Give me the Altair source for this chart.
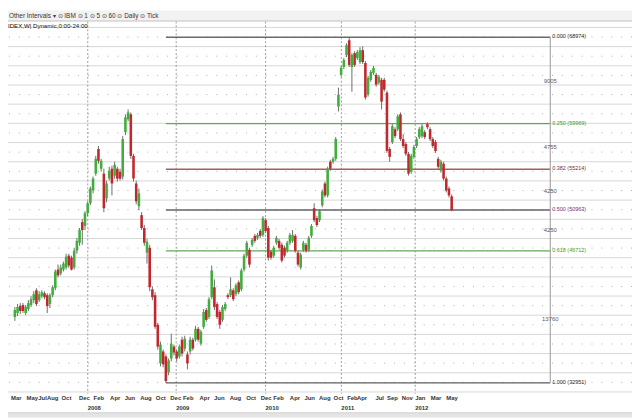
import altair as alt
import pandas as pd

# ---------------- candle data (weekly bars, in bar order) ----------------
opens = [
    39820, 40230, 40950, 41060, 40230, 40640, 41060, 41570, 42600, 41570,
    41980, 42290, 42090, 41160, 42090, 42810, 44760, 44350, 44760, 44970,
    46210, 46000, 44970, 46720, 47550, 49710, 49300, 50640, 51670, 53000,
    54760, 57330, 55270, 54760, 52180, 54240, 55270, 54550, 55270, 54960,
    54450, 59080, 60420, 60940, 56610, 53730, 51360, 50430, 49090, 46520,
    47030, 42700, 42090, 39000, 34980, 36220, 35700, 34050, 35490, 36730,
    36220, 35700, 37450, 36520, 35910,
    36220, 37450, 37450, 38580, 37040, 38790, 40540, 39820, 41880, 42910,
    41160, 40340, 39510, 40640, 42090, 42090, 42600, 42190, 43430, 42700,
    44760, 46210, 46820, 47340, 48270, 48060, 48780, 48370, 49910, 49090,
    46620, 46210, 47550, 47750, 47340, 47030, 46720, 47550, 47750, 48270,
    46520, 44970, 46820, 47340, 46820, 48270, 51150, 50120, 49910, 51460,
    53730, 52490, 55990, 55990, 56300, 61760, 65060, 65880, 67120, 68660,
    65880, 67320, 66810, 66390, 67630, 66290, 63000, 64540, 65260, 65060,
    64230, 64540, 64540, 63200, 57330, 58050, 59390, 59390, 60940, 58360,
    57850, 56820, 54960, 56510, 57640, 58570, 58670, 59080, 59910, 59390,
    58360, 58050, 56300, 55060, 55790, 54240, 53210, 52390,
]
highs = [
    40850, 41160, 41260, 41260, 41060, 41570, 41980, 42500, 42810, 42500,
    42600, 42500, 42290, 42290, 43120, 44760, 45280, 45280, 45590, 46410,
    46410, 46210, 47030, 48060, 49090, 50020, 50840, 51870, 53420, 54450,
    56610, 57640, 56300, 55270, 54030, 55480, 55580, 55990, 55480, 55270,
    58670, 60940, 61450, 61140, 56820, 54030, 53210, 50740, 49400, 47960,
    47340, 43010, 42400, 39200, 37250, 36420, 35910, 35490, 38070, 36940,
    36420, 36940, 37760, 37860, 36220,
    37760, 37660, 38890, 38790, 38480, 40640, 40750, 41880, 45180, 43730,
    41370, 40540, 41060, 41370, 42290, 43940, 42810, 43320, 43630, 44870,
    46410, 47750, 47030, 48060, 48470, 48580, 48990, 50330, 50120, 49300,
    46820, 47240, 48270, 47960, 47550, 47240, 47750, 48580, 48880, 48470,
    46720, 46520, 47750, 47550, 48270, 49500, 51670, 50330, 51050, 53110,
    53930, 55480, 56200, 56510, 58570, 63720, 65980, 66810, 68350, 68974,
    67320, 67530, 67630, 67940, 68040, 66500, 64950, 65570, 65980, 65260,
    65060, 64750, 64750, 63410, 57540, 59910, 59600, 60940, 61140, 58880,
    58050, 57020, 56820, 57740, 58570, 59600, 59910, 59290, 60110, 59600,
    58570, 58260, 56510, 56200, 55990, 54450, 53420, 52590,
]
lows = [
    39410, 39920, 40130, 40230, 40030, 40440, 40850, 41260, 40950, 41370,
    41780, 41670, 40230, 40750, 41880, 42600, 43940, 44150, 44560, 44760,
    44970, 44660, 44760, 46410, 47240, 47340, 48880, 50330, 51460, 52700,
    54550, 55790, 54960, 50740, 51770, 54030, 52490, 54240, 53930, 54030,
    54140, 58770, 60210, 56300, 53930, 51560, 50940, 48880, 47240, 45380,
    42500, 41570, 38580, 36420, 34670, 34570, 32951, 33740, 35190, 35800,
    35190, 35490, 35700, 36220, 34360,
    35910, 36320, 37250, 37250, 36830, 38580, 39310, 39610, 41670, 40540,
    39610, 38580, 39310, 40440, 41670, 41880, 41470, 41980, 42190, 42500,
    44560, 46000, 44970, 47130, 47550, 47850, 48060, 48160, 48580, 45690,
    45790, 46000, 47340, 46820, 45490, 46000, 46520, 47340, 47550, 46520,
    45070, 44760, 46620, 46520, 46620, 48060, 49710, 49190, 49710, 51250,
    52280, 52280, 55060, 55790, 56090, 61240, 64850, 65670, 66910, 65880,
    63300, 65880, 66600, 66190, 66190, 62480, 62790, 64330, 65060, 63820,
    64030, 61450, 63300, 56920, 55990, 57850, 58460, 59180, 58150, 57430,
    56610, 54550, 54760, 56300, 57430, 58360, 58460, 58360, 59390, 58150,
    57430, 56920, 55270, 54860, 54030, 52800, 52280, 50840,
]
closes = [
    40540, 40850, 40440, 40440, 40850, 41260, 41670, 42190, 41160, 42190,
    42400, 41880, 40950, 42090, 42910, 44560, 44150, 44970, 45380, 46100,
    45180, 44760, 46720, 47750, 48880, 48880, 50640, 51670, 53210, 54240,
    56300, 56090, 56090, 51150, 53730, 55060, 53730, 55680, 54240, 54240,
    58360, 60630, 61140, 56610, 54240, 51870, 52700, 49090, 47550, 47650,
    42910, 41880, 38790, 36730, 36940, 34880, 33130, 35290, 37040, 36110,
    35490, 36730, 36010, 37550, 34980,
    37450, 36520, 38580, 37450, 38280, 40340, 39510, 41670, 44660, 40850,
    39820, 39000, 40850, 41160, 41880, 42700, 41670, 43120, 42400, 44660,
    46210, 47550, 45280, 47850, 47750, 48370, 48270, 50120, 48780, 46000,
    46000, 47030, 48060, 47030, 45690, 46210, 47550, 48370, 48370, 46720,
    45280, 46310, 47550, 46720, 48060, 49300, 49910, 49400, 50840, 52900,
    52490, 55270, 55270, 56300, 58360, 63000, 65780, 66600, 68150, 66090,
    67120, 66090, 67420, 67630, 66390, 62690, 64750, 65360, 65780, 64030,
    64850, 62270, 63510, 57120, 56510, 59700, 58670, 60730, 58360, 57640,
    56820, 54760, 56610, 57540, 58360, 59390, 59700, 58570, 59600, 58360,
    57640, 57120, 55480, 55990, 54240, 53000, 52490, 50940,
]

# ---------------- Fibonacci retracement ----------------
fib_levels = ["0.000", "0.250", "0.382", "0.500", "0.618", "1.000"]
fib_prices = [68974, 59969, 55214, 50963, 46712, 32951]
fib_line_colors = ["#6a6a6a", "#62a856", "#a65e5e", "#66606a", "#62a856", "#5e5e5e"]
fib_text_colors = ["#1e1e1e", "#3d9a2f", "#7a2c2c", "#7c2a78", "#3d9a2f", "#1e1e1e"]

# ---------------- axis labels (positions in bar units) ----------------
month_labels = ["Mar", "May", "Jul", "Aug", "Oct", "Dec", "Feb", "Apr", "Jun", "Aug",
                "Oct", "Dec", "Feb", "Apr", "Jun", "Aug", "Oct", "Dec", "Feb", "Apr",
                "Jun", "Aug", "Oct", "Feb", "Apr", "Jul", "Sep", "Nov", "Jan", "Mar", "May"]
month_pos = [-1.44, 4.32, 8.7, 11.9, 17.30, 23.79, 29.19, 35.32, 40.73, 46.49,
             52.26, 57.66, 62.35, 68.48, 73.88, 79.65, 85.77, 91.18, 95.87, 101.99,
             107.40, 112.80, 118.21, 123.26, 126.86, 133.71, 138.03, 143.44, 148.48,
             154.25, 160.02]
year_labels = ["2008", "2009", "2010", "2011", "2012"]
year_pos = [27.03, 59.83, 92.98, 121.09, 148.48]

scale_labels = ["9005", "4755", "4250", "4250", "13760"]
scale_prices = [64440, 57540, 52900, 48880, 39610]

grid_major = list(range(32000, 72000, 2000))
grid_minor = list(range(33000, 72000, 2000))

AXIS_POS = 198.58
W, H = 632, 412
X = alt.Scale(domain=[-0.72, 227.05], nice=False, zero=False)
Y = alt.Scale(domain=[29349, 71753], nice=False, zero=False)
GREEN, RED = "#3fae3c", "#c0282d"
FONT = "Liberation Sans"

n = len(opens)
candles = pd.DataFrame({"bar": list(range(n)), "open": opens, "high": highs,
                        "low": lows, "close": closes})
low_bar = int(candles["low"].idxmin())

fib = pd.DataFrame({
    "level": fib_levels, "price": fib_prices,
    "start": [low_bar] * len(fib_levels), "end": [AXIS_POS] * len(fib_levels),
    "lcol": fib_line_colors, "tcol": fib_text_colors,
    "label": [f"{l} ({p})" for l, p in zip(fib_levels, fib_prices)],
})
fib_axis = pd.DataFrame({"pos": [AXIS_POS], "top": [max(fib_prices)], "bottom": [min(fib_prices)]})
one = pd.DataFrame({"a": [0]})

g_major = alt.Chart(pd.DataFrame({"p": grid_major})).mark_rule(
    color="#d6d6d6", strokeWidth=1).encode(y=alt.Y("p:Q", scale=Y, axis=None))
g_minor = alt.Chart(pd.DataFrame({"p": grid_minor})).mark_rule(
    color="#b0b0b0", strokeWidth=1, strokeDash=[1, 9]).encode(y=alt.Y("p:Q", scale=Y, axis=None))

years_rule = alt.Chart(pd.DataFrame({"pos": year_pos})).mark_rule(
    color="#9a9a9a", strokeDash=[2, 2], strokeWidth=1).encode(
    x=alt.X("pos:Q", scale=X, axis=None), y=alt.value(11), y2=alt.value(388))

fib_lines = alt.Chart(fib).mark_rule(strokeWidth=1.4).encode(
    x=alt.X("start:Q", scale=X, axis=None), x2="end:Q",
    y=alt.Y("price:Q", scale=Y, axis=None),
    color=alt.Color("lcol:N", scale=None))

fib_vert = alt.Chart(fib_axis).mark_rule(color="#a8a8a8", strokeWidth=1.2).encode(
    x=alt.X("pos:Q", scale=X, axis=None),
    y=alt.Y("top:Q", scale=Y, axis=None), y2="bottom:Q")

wicks = alt.Chart(candles).mark_rule(color="#6c6c6c", strokeWidth=1).encode(
    x=alt.X("bar:Q", scale=X, axis=None),
    y=alt.Y("low:Q", scale=Y, axis=None), y2="high:Q")

bodies = alt.Chart(candles).mark_bar(size=2.6).encode(
    x=alt.X("bar:Q", scale=X, axis=None),
    y=alt.Y("open:Q", scale=Y, axis=None), y2="close:Q",
    color=alt.condition("datum.close >= datum.open", alt.value(GREEN), alt.value(RED)))

fib_text = alt.Chart(fib).mark_text(
    align="left", baseline="alphabetic", dx=2, dy=1, fontSize=5.5, font=FONT).encode(
    x=alt.X("end:Q", scale=X, axis=None),
    y=alt.Y("price:Q", scale=Y, axis=None),
    text="label:N", color=alt.Color("tcol:N", scale=None))

scale_text = alt.Chart(pd.DataFrame({"t": scale_labels, "p": scale_prices,
                                     "pos": [AXIS_POS] * len(scale_labels)})).mark_text(
    align="center", baseline="middle", fontSize=6, font=FONT, color="#5a5a5a").encode(
    x=alt.X("pos:Q", scale=X, axis=None), y=alt.Y("p:Q", scale=Y, axis=None), text="t:N")

months = alt.Chart(pd.DataFrame({"t": month_labels, "pos": month_pos})).mark_text(
    align="left", baseline="middle", fontSize=6, font=FONT, fontWeight="bold",
    color="#333333").encode(x=alt.X("pos:Q", scale=X, axis=None), y=alt.value(392), text="t:N")

years = alt.Chart(pd.DataFrame({"t": year_labels, "pos": year_pos})).mark_text(
    align="left", baseline="middle", fontSize=6, font=FONT, fontWeight="bold",
    color="#333333").encode(x=alt.X("pos:Q", scale=X, axis=None), y=alt.value(403), text="t:N")

toolbar_bg = alt.Chart(one).mark_rect(color="#f2f2f2").encode(
    x=alt.value(0), x2=alt.value(W), y=alt.value(0), y2=alt.value(10))
toolbar_line = alt.Chart(one).mark_rule(color="#bdbdbd").encode(
    x=alt.value(0), x2=alt.value(W), y=alt.value(10.5))
toolbar_text = alt.Chart(one).mark_text(
    align="left", baseline="middle", fontSize=6.5, font=FONT, color="#333333").encode(
    x=alt.value(1), y=alt.value(5),
    text=alt.value("Other Intervals \u25be  \u2299 IBM  \u2299 1  \u2299 5  \u2299 60  \u2299 Daily  \u2299 Tick"))
header_text = alt.Chart(one).mark_text(
    align="left", baseline="middle", fontSize=6.2, font=FONT,
    color="#111111").encode(x=alt.value(0), y=alt.value(16),
                            text=alt.value("IDEX,W| Dynamic,0:00-24:00"))

status_bg = alt.Chart(one).mark_rect(color="#e4e4e4").encode(
    x=alt.value(0), x2=alt.value(W), y=alt.value(408), y2=alt.value(H))
status_line = alt.Chart(one).mark_rule(color="#c4c4c4").encode(
    x=alt.value(0), x2=alt.value(W), y=alt.value(407.5))

chart = alt.layer(
    g_major, g_minor, years_rule, fib_lines, fib_vert, wicks, bodies,
    fib_text, scale_text, months, years,
    toolbar_bg, toolbar_line, toolbar_text, header_text, status_bg, status_line,
).properties(
    width=W, height=H, padding=0,
    autosize=alt.AutoSizeParams(type="none"),
).configure_view(stroke=None)

chart.save("out.html", embed_options={"renderer": "svg", "actions": False})
